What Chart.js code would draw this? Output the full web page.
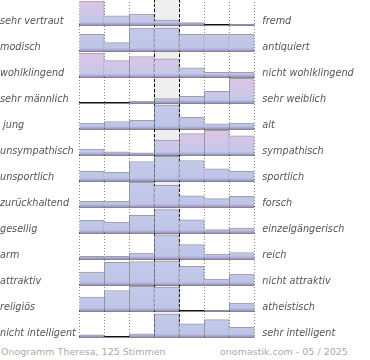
<!DOCTYPE html>
<html>
<head>
<meta charset="utf-8">
<script src="https://cdn.jsdelivr.net/npm/chart.js@4"></script>
<style>
  html, body { margin: 0; padding: 0; background: #fff; }
  body { width: 370px; height: 360px; position: relative; overflow: hidden; font-family: "DejaVu Sans", sans-serif; }
  #wrap { position: absolute; left: 0; top: -1px; width: 370px; height: 340px; }
  .foot { position: absolute; top: 346px; font-size: 9.5px; line-height: 12px; color: #aaa; white-space: nowrap; }
</style>
</head>
<body>
<div id="wrap"><canvas id="myChart"></canvas></div>
<div class="foot" style="left:1px">Onogramm Theresa, 125 Stimmen</div>
<div class="foot" style="left:220px">onomastik.com - 05 / 2025</div>
<script>
var scalePoints = ['1', '2', '3', '4', '5', '6', '7'];

var leftLabels = ['sehr vertraut', 'modisch', 'wohlklingend', 'sehr männlich', ' jung', 'unsympathisch',
    'unsportlich', 'zurückhaltend', 'gesellig', 'arm', 'attraktiv', 'religiös', 'nicht intelligent'];

var rightLabels = ['fremd', 'antiquiert', 'nicht wohlklingend', 'sehr weiblich', 'alt', 'sympathisch',
    'sportlich', 'forsch', 'einzelgängerisch', 'reich', 'nicht attraktiv', 'atheistisch', 'sehr intelligent'];

// height of each bar in % of a row, one line per row, 7 scale points
var votes = [
    [92, 35, 42, 19, 9, 0, 3],
    [64, 32, 88, 88, 64, 64, 64],
    [92, 63, 79, 70, 35, 18, 18],
    [0, 0, 6, 17, 26, 45, 95],
    [23, 29, 33, 92, 45, 20, 23],
    [23, 12, 8, 57, 82, 95, 74],
    [37, 33, 75, 95, 79, 47, 37],
    [22, 22, 95, 83, 43, 32, 41],
    [49, 42, 68, 90, 51, 13, 19],
    [10, 10, 23, 93, 55, 19, 25],
    [50, 87, 90, 92, 72, 23, 42],
    [54, 79, 95, 92, 0, 3, 30],
    [8, 0, 12, 88, 51, 67, 37]
];

var rows = leftLabels.length;

// rows drawn with the pink tint
var pinkRows = [0, 2, 3, 5];

function barFill(ctx) {
    var chart = ctx.chart;
    if (!chart.chartArea) return '#c3c9e9';
    var r = ctx.datasetIndex;
    var y = chart.scales.y;
    var top = y.getPixelForValue(rows - r);
    var bottom = y.getPixelForValue(rows - 1 - r);
    var g = chart.ctx.createLinearGradient(0, top, 0, bottom);
    if (pinkRows.indexOf(r) >= 0) {
        g.addColorStop(0, '#ddc4e4');
        g.addColorStop(0.5, '#d2c6e8');
        g.addColorStop(0.88, '#c3c8e8');
    } else {
        g.addColorStop(0, '#c5cbea');
        g.addColorStop(0.88, '#bfc5e7');
    }
    g.addColorStop(0.93, '#b2b0dc');
    g.addColorStop(1, '#9a92ca');
    return g;
}

function barBorder(ctx) {
    var vals = votes[ctx.datasetIndex];
    var i = ctx.dataIndex;
    var v = vals[i];
    return {
        top: 1,
        left: (i > 0 && v > vals[i - 1]) ? 1 : 0,
        right: (i === vals.length - 1 || v >= vals[i + 1]) ? 1 : 0,
        bottom: 0
    };
}

var datasets = [];
for (let r = 0; r < rows; r++) {
    var base = rows - 1 - r;
    datasets.push({
        label: leftLabels[r],
        data: votes[r].map(function (v) { return v > 0 ? [base, base + v / 100] : null; }),
        backgroundColor: barFill,
        borderColor: 'rgba(125,125,140,0.75)',
        borderWidth: barBorder,
        borderSkipped: false,
        barPercentage: 1,
        categoryPercentage: 1,
        grouped: false,
        xAxisID: 'x',
        yAxisID: 'y'
    });
}

// light grey band behind the middle scale point
var middleBand = {
    id: 'middleBand',
    beforeDraw: function (chart) {
        var x = chart.scales.x, a = chart.chartArea, c = chart.ctx;
        var w = x.getPixelForValue(1) - x.getPixelForValue(0);
        var cx = x.getPixelForValue(3);
        c.save();
        c.fillStyle = '#eeeeee';
        c.fillRect(cx - w / 2, a.top, w, a.bottom - a.top);
        c.restore();
    }
};

var labelFont = { family: 'DejaVu Sans', size: 9.7, style: 'italic' };
var labelLift = 0.14;

function noPad(s) { s.paddingTop = 0; s.paddingBottom = 0; s.paddingLeft = 0; s.paddingRight = 0; }

var ctx = document.getElementById('myChart').getContext('2d');
var myChart = new Chart(ctx, {
    type: 'bar',
    data: { labels: scalePoints, datasets: datasets },
    plugins: [middleBand],
    options: {
        responsive: true,
        maintainAspectRatio: false,
        animation: false,
        layout: { padding: { left: 0, right: 0, top: 0, bottom: 2 } },
        plugins: { legend: { display: false }, tooltip: { enabled: false } },
        scales: {
            x: {
                type: 'category',
                position: 'bottom',
                offset: true,
                grid: { offset: true, color: '#888', lineWidth: 1, drawTicks: false },
                border: { display: false, dash: [1, 2] },
                ticks: { display: false },
                afterFit: function (s) { s.height = 0; noPad(s); }
            },
            x2: {
                type: 'category',
                position: 'bottom',
                offset: true,
                z: 1,
                grid: {
                    offset: true, lineWidth: 1, drawTicks: false,
                    color: function (c) { return (c.index === 3 || c.index === 4) ? '#000' : 'rgba(0,0,0,0)'; }
                },
                border: { display: false, dash: [3, 2] },
                ticks: { display: false },
                afterFit: function (s) { s.height = 0; noPad(s); }
            },
            y: {
                type: 'linear',
                position: 'left',
                min: 0,
                max: rows,
                grid: { display: false, drawTicks: false },
                border: { display: false },
                ticks: {
                    autoSkip: false, crossAlign: 'far', padding: 0, color: '#555', font: labelFont,
                    callback: function (v, i) { return leftLabels[i]; }
                },
                afterBuildTicks: function (s) {
                    s.ticks = leftLabels.map(function (t, i) { return { value: rows - 1 - i + labelLift }; });
                },
                afterFit: function (s) { s.width = 79.3; noPad(s); }
            },
            y2: {
                type: 'linear',
                position: 'right',
                min: 0,
                max: rows,
                grid: { display: false, drawTicks: false },
                border: { display: false },
                ticks: {
                    autoSkip: false, crossAlign: 'near', padding: 8, color: '#555', font: labelFont,
                    callback: function (v, i) { return rightLabels[i]; }
                },
                afterBuildTicks: function (s) {
                    s.ticks = rightLabels.map(function (t, i) { return { value: rows - 1 - i + labelLift }; });
                },
                afterFit: function (s) { s.width = 115.7; noPad(s); }
            },
            yb: {
                type: 'linear',
                position: 'left',
                min: 0,
                max: rows,
                z: 1,
                grid: {
                    lineWidth: 1.6, drawTicks: false,
                    color: function (c) { return c.tick && c.tick.value < rows ? '#111' : 'rgba(0,0,0,0)'; }
                },
                border: { display: false },
                ticks: { display: false, stepSize: 1 },
                afterFit: function (s) { s.width = 0; noPad(s); }
            }
        }
    }
});
</script>
</body>
</html>
